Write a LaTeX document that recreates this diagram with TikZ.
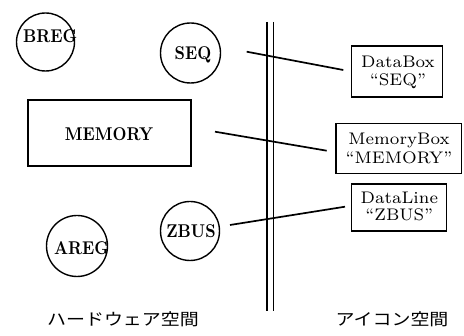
\documentclass[tikz,border=0pt]{standalone}
\usepackage{fontspec}
\newfontfamily\jp[FakeStretch=1.15]{Noto Sans CJK JP}
\newcommand\hwtxt[1]{\scalebox{1.62}[1.85]{\fontsize{10}{12}\selectfont\bfseries #1}}
\newcommand\ictxt[1]{\scalebox{2.4}{\fontsize{7}{8}\selectfont #1}}
\begin{document}
\begin{tikzpicture}[x=1pt,y=-1pt,
  circ/.style={draw,circle,line width=1.4pt,minimum size=60pt,inner sep=0pt},
  bl/.style={inner sep=0pt,anchor=base},
  boxr/.style={draw,line width=1.2pt,inner sep=0pt},
  bt/.style={inner sep=0pt,anchor=base},
  conn/.style={line width=1.7pt},
  wall/.style={line width=1.2pt},
  jl/.style={font=\fontsize{16.5}{18}\selectfont\jp,inner sep=0pt}]
\useasboundingbox (0,0) rectangle (464,336);
% hardware space
\node[circ,minimum size=58pt] (breg) at (45.5,42) {};
\node[bl] (bregt) at (50.3,42.7) {\hwtxt{BREG}};
\node[circ] (seq) at (190.5,53) {};
\node[bl] (seqt) at (193,60) {\hwtxt{SEQ}};
\node[boxr,minimum width=163pt,minimum height=66pt] (mem) at (109.5,133) {};
\node[bl] (memt) at (109,141) {\hwtxt{MEMORY}};
\node[circ,minimum size=59pt] (zbus) at (190,231) {};
\node[bl] (zbust) at (191,238) {\hwtxt{ZBUS}};
\node[circ,minimum size=61pt] (areg) at (77,246) {};
\node[bl] (aregt) at (81.5,255) {\hwtxt{AREG}};
% wall
\coordinate (w1t) at (267,22); \coordinate (w1b) at (267,311);
\coordinate (w2t) at (273.5,22); \coordinate (w2b) at (273.5,311);
\draw[wall] (w1t) -- (w1b);
\draw[wall] (w2t) -- (w2b);
% icon space
\node[boxr,minimum width=91pt,minimum height=51pt] (dbox) at (397.2,71.5) {};
\node[bt] (dbox1) at (398,67.3) {\ictxt{DataBox}};
\node[bt] (dbox2) at (398,85.5) {\ictxt{``SEQ''}};
\node[boxr,minimum width=125.7pt,minimum height=50pt] (mbox) at (398.8,148.3) {};
\node[bt] (mbox1) at (399,145) {\ictxt{MemoryBox}};
\node[bt] (mbox2) at (399,163.3) {\ictxt{``MEMORY''}};
\node[boxr,minimum width=95pt,minimum height=47pt] (lbox) at (399.3,207.5) {};
\node[bt] (lbox1) at (399.3,203.3) {\ictxt{DataLine}};
\node[bt] (lbox2) at (399.3,220.5) {\ictxt{``ZBUS''}};
% connectors
\coordinate (c1a) at (246.7,51.7); \coordinate (c1b) at (343.3,70);
\coordinate (c2a) at (215,131.7); \coordinate (c2b) at (326.7,150.7);
\coordinate (c3a) at (230,225); \coordinate (c3b) at (345,206.7);
\draw[conn] (c1a) -- (c1b);
\draw[conn] (c2a) -- (c2b);
\draw[conn] (c3a) -- (c3b);
% labels
\node[jl] (hw) at (123,319.5) {ハードウェア空間};
\node[jl] (ic) at (392,319.5) {アイコン空間};
\end{tikzpicture}
\end{document}
